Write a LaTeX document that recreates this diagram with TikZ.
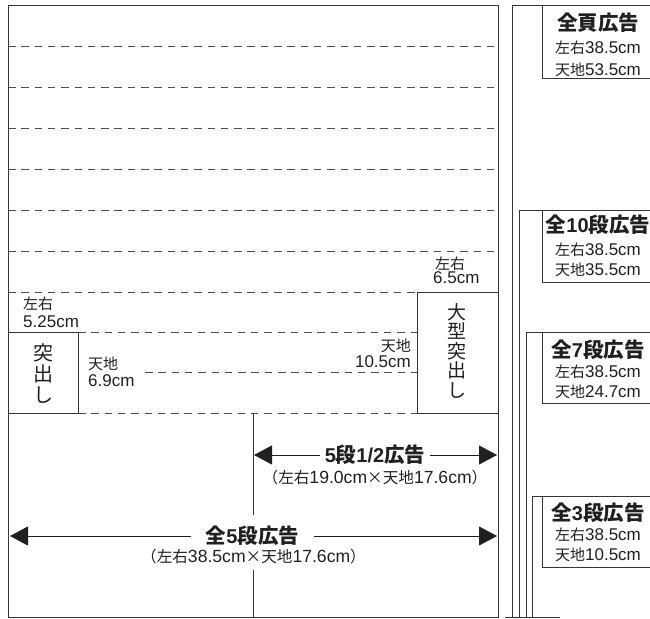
\documentclass[tikz,border=0pt]{standalone}
\usepackage{fontspec}
\setmainfont{Liberation Sans}
\newfontfamily\jp{Noto Sans CJK JP}
\usetikzlibrary{arrows.meta}
\definecolor{ink}{HTML}{231F20}
\newcommand\sj[1]{{\jp\fontsize{15}{15}\selectfont #1}}
\newcommand\tj[1]{{\jp\fontsize{15.6}{15}\selectfont #1}}
\newcommand\hj[1]{{\jp\bfseries\fontsize{20.5}{20}\selectfont #1}}
\tikzset{
  ln/.style={draw=ink!90, line width=0.8pt},
  dsh/.style={draw=ink!80, line width=0.8pt, dash pattern=on 7.5pt off 5.8pt},
  sm/.style={text=ink, inner sep=0pt, font=\fontsize{17}{17}\selectfont},
  sl/.style={text=ink, inner sep=0pt, font=\fontsize{17.6}{17}\selectfont},
  hd/.style={text=ink, inner sep=0pt, font=\fontsize{20}{20}\selectfont\bfseries},
  vt/.style={text=ink, inner sep=0pt, align=center},
  arr/.style={draw=ink, line width=0.8pt, {Triangle[length=18pt,width=19pt]}-{Triangle[length=18pt,width=19pt]}},
}
\begin{document}
\begin{tikzpicture}[x=1pt,y=-1pt]
\useasboundingbox (0,0) rectangle (650,618);
\fill[white] (0,0) rectangle (650,618);
% dashed rows
\foreach \yy in {46,87,128,169,210,251} {\draw[dsh] (8,\yy) -- (498,\yy);}
\draw[dsh] (8,292) -- (417,292);
\draw[dsh] (78,332) -- (417,332);
\draw[dsh] (145,372) -- (417,372);
\draw[dsh] (78,413) -- (417,413);
% main box
\draw[ln] (8,5) rectangle (498,617);
% boxes
\draw[ln] (8,332) rectangle (78,413);
\draw[ln] (417,292) rectangle (498,413);
% vertical split
\draw[ln] (253,413) -- (253,515);
\draw[ln] (253,570) -- (253,617);
% right side frames
\draw[ln] (512,617) -- (512,5) -- (650,5);
\draw[ln] (542,5) -- (542,78) -- (650,78);
\draw[ln] (519,617) -- (519,210) -- (650,210);
\draw[ln] (542,210) -- (542,282) -- (650,282);
\draw[ln] (526,617) -- (526,332) -- (650,332);
\draw[ln] (542,332) -- (542,403) -- (650,403);
\draw[ln] (532,617) -- (532,496) -- (650,496);
\draw[ln] (542,496) -- (542,567) -- (650,567);
\draw[ln] (505,617) -- (560,617);
% right labels
\node[hd, anchor=base] (p1h) at (598,31) {\hj{全頁広告}};
\node[sm, anchor=base] (p1a) at (598,53) {\sj{左右}38.5cm};
\node[sm, anchor=base] (p1b) at (598,75) {\sj{天地}53.5cm};
\node[hd, anchor=base] (p2h) at (598,232) {\hj{全}10\hj{段広告}};
\node[sm, anchor=base] (p2a) at (598,255) {\sj{左右}38.5cm};
\node[sm, anchor=base] (p2b) at (598,275) {\sj{天地}35.5cm};
\node[hd, anchor=base] (p3h) at (598,357) {\hj{全}7\hj{段広告}};
\node[sm, anchor=base] (p3a) at (598,377) {\sj{左右}38.5cm};
\node[sm, anchor=base] (p3b) at (598,397) {\sj{天地}24.7cm};
\node[hd, anchor=base] (p4h) at (598,520) {\hj{全}3\hj{段広告}};
\node[sm, anchor=base] (p4a) at (598,540) {\sj{左右}38.5cm};
\node[sm, anchor=base] (p4b) at (598,560) {\sj{天地}10.5cm};
% small box labels
\node[sm, anchor=base west] (k1a) at (23,309) {\sj{左右}};
\node[sm, anchor=base west] (k1b) at (23,327) {5.25cm};
\node[sm, anchor=base west] (k2a) at (88,369) {\sj{天地}};
\node[sm, anchor=base west] (k2b) at (88,386) {6.9cm};
\node[sm, anchor=base west] (k3a) at (435,269) {\sj{左右}};
\node[sm, anchor=base west] (k3b) at (433,283) {6.5cm};
\node[sm, anchor=base east] (k4a) at (411,351) {\sj{天地}};
\node[sm, anchor=base east] (k4b) at (411,367) {10.5cm};
\node[vt, font=\jp\fontsize{20}{21}\selectfont] (tsu) at (43,374) {突\\出\\し};
\node[vt, font=\jp\fontsize{19}{19.5}\selectfont] (otsu) at (457,351) {大\\型\\突\\出\\し};
% arrows
\coordinate (a1l) at (254,455);
\coordinate (a1r) at (497,455);
\coordinate (a2l) at (10,536);
\coordinate (a2r) at (497,536);
\draw[arr] (a1l) -- (a1r);
\draw[arr] (a2l) -- (a2r);
\node[hd, anchor=base, fill=white, inner xsep=5pt, inner ysep=2pt] (h1) at (375,462) {5\hj{段}1/2\hj{広告}};
\node[sl, anchor=base] (s1) at (375,483) {\tj{（左右}19.0cm\tj{×天地}17.6cm\tj{）}};
\node[hd, anchor=base, fill=white, inner xsep=15pt, inner ysep=2pt] (h2) at (252.5,543) {\hj{全}5\hj{段広告}};
\node[sl, anchor=base] (s2) at (253.5,562) {\tj{（左右}38.5cm\tj{×天地}17.6cm\tj{）}};
\end{tikzpicture}
\end{document}
